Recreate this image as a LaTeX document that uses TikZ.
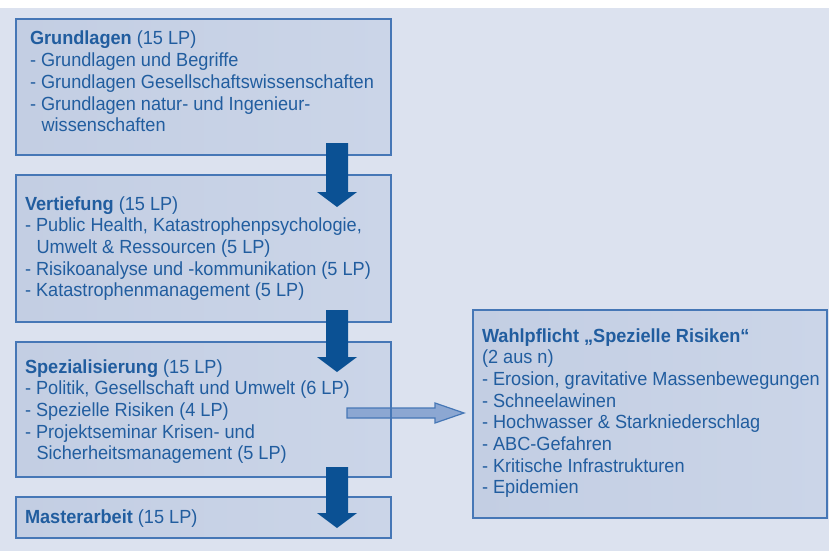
\documentclass[tikz,border=0pt]{standalone}
\usepackage{fontspec}
\setmainfont[FakeStretch=0.955]{Liberation Sans}
\usetikzlibrary{calc}

\definecolor{bgblue}{HTML}{DCE2EF}
\definecolor{boxfillA}{HTML}{C3CEE3}
\definecolor{boxfillB}{HTML}{CBD5E8}
\definecolor{boxline}{HTML}{4677B6}
\definecolor{textblue}{HTML}{215D9F}
\definecolor{arrowblue}{HTML}{0B5194}
\definecolor{arrowlight}{HTML}{8CA7D2}

% indent for wrapped list lines (width of "- ")
\newcommand\contline{\hspace*{11.6pt}}
% solid down arrow from #1 (top of shaft) to #2 (tip)
\newcommand\blockdown[2]{%
  \fill[downarrow] ($(#1)+(-11,0)$) -- ($(#1)+(11,0)$) -- ($(#2)+(11,-15)$)
    -- ($(#2)+(20,-15)$) -- (#2) -- ($(#2)+(-20,-15)$) -- ($(#2)+(-11,-15)$) -- cycle;}

\tikzset{
  modbox/.style={rectangle, anchor=north west, inner sep=0pt, outer sep=0pt,
    left color=boxfillA, right color=boxfillB, draw=boxline, line width=1.6pt},
  boxedge/.style={draw=boxline, line width=1.6pt},
  boxtext/.style={anchor=base west, inner sep=0pt, outer sep=0pt, text=textblue,
    font=\fontsize{19}{21.7}\selectfont},
  downarrow/.style={fill=arrowblue},
  sidearrow/.style={fill=arrowlight, draw=boxline, line width=1.2pt, line join=miter},
}

\begin{document}
\begin{tikzpicture}[x=1pt,y=-1pt]
  \useasboundingbox (0,0) rectangle (830,551);
  \fill[white] (0,0) rectangle (830,551);
  \fill[bgblue] (0,8) rectangle (829,551);

  % module boxes
  \node[modbox, minimum width=375pt, minimum height=136pt] (grund) at (16,19) {};
  \node[modbox, minimum width=375pt, minimum height=147pt] (vert) at (16,175) {};
  \node[modbox, minimum width=375pt, minimum height=135pt] (spez) at (16,342) {};
  \node[modbox, minimum width=375pt, minimum height=41pt] (master) at (16,497) {};
  \node[modbox, minimum width=354pt, minimum height=208pt] (wahl) at (473,310) {};

  % box contents
  \node[boxtext] (grundtxt) at (30,45) {\parbox[t]{355pt}{%
    \textbf{Grundlagen} (15 LP)\\
    - Grundlagen und Begriffe\\
    - Grundlagen Gesellschaftswissenschaften\\
    - Grundlagen natur- und Ingenieur-\\
    \contline wissenschaften}};
  \node[boxtext] (verttxt) at (25,210) {\parbox[t]{360pt}{%
    \textbf{Vertiefung} (15 LP)\\
    - Public Health, Katastrophenpsychologie,\\
    \contline Umwelt \& Ressourcen (5 LP)\\
    - Risikoanalyse und -kommunikation (5 LP)\\
    - Katastrophenmanagement (5 LP)}};
  \node[boxtext] (speztxt) at (25,373) {\parbox[t]{360pt}{%
    \textbf{Spezialisierung} (15 LP)\\
    - Politik, Gesellschaft und Umwelt (6 LP)\\
    - Spezielle Risiken (4 LP)\\
    - Projektseminar Krisen- und\\
    \contline Sicherheitsmanagement (5 LP)}};
  \node[boxtext] (mastertxt) at (25,523) {\textbf{Masterarbeit} (15 LP)};
  \node[boxtext] (wahltxt) at (482,342) {\parbox[t]{345pt}{%
    \textbf{Wahlpflicht „Spezielle Risiken“}\\
    (2 aus n)\\
    - Erosion, gravitative Massenbewegungen\\
    - Schneelawinen\\
    - Hochwasser \& Starkniederschlag\\
    - ABC-Gefahren\\
    - Kritische Infrastrukturen\\
    - Epidemien}};

  % side arrow to the elective box, under the right edge of its box
  \coordinate (hs) at (347,413);
  \coordinate (he) at (464,413);
  \draw[sidearrow] ($(hs)+(0,-5)$) -- ($(he)+(-29,-5)$) -- ($(he)+(-29,-10)$) -- (he)
    -- ($(he)+(-29,10)$) -- ($(he)+(-29,5)$) -- ($(hs)+(0,5)$) -- cycle;
  \draw[boxedge] (spez.north east) -- (spez.south east);

  % down arrows between the stages
  \coordinate (d1s) at (337,143);
  \coordinate (d1e) at (337,207);
  \coordinate (d2s) at (337,310);
  \coordinate (d2e) at (337,372);
  \coordinate (d3s) at (337,467);
  \coordinate (d3e) at (337,528);
  \blockdown{d1s}{d1e}
  \blockdown{d2s}{d2e}
  \blockdown{d3s}{d3e}
\end{tikzpicture}
\end{document}
